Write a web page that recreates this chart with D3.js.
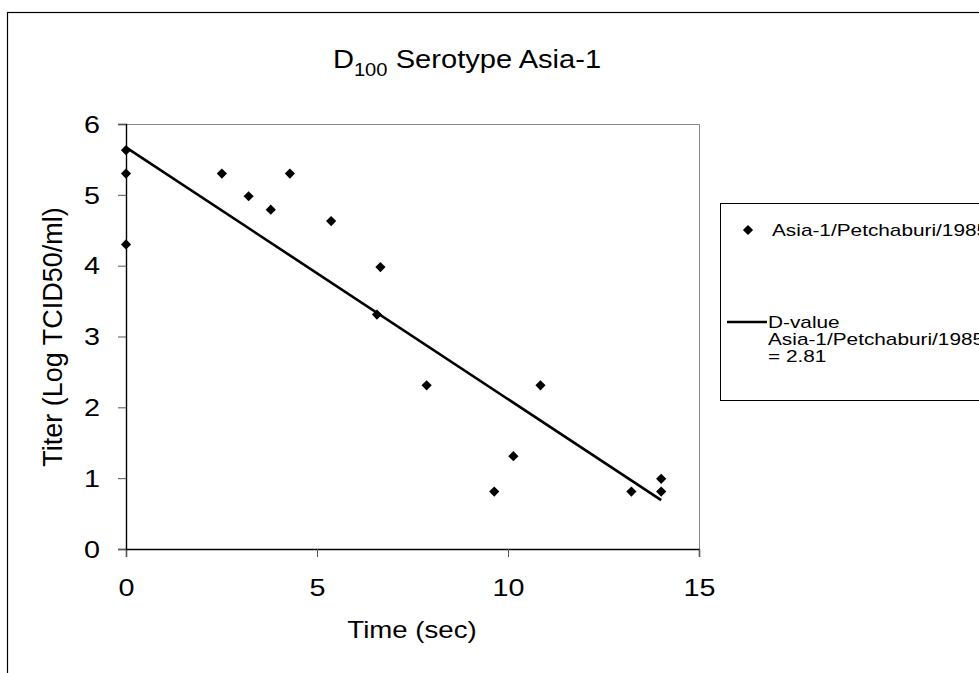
<!DOCTYPE html>
<html>
<head>
<meta charset="utf-8">
<script src="https://cdn.jsdelivr.net/npm/d3@7"></script>
<style>
  body { margin: 0; background: #fff; }
  svg { display: block; font-family: Arial, "Liberation Sans", sans-serif; }
</style>
</head>
<body>
<svg width="979" height="673"></svg>
<script>
// titer readings (Log TCID50/ml) against time (sec)
var times  = [0, 0, 0, 2.51, 3.21, 3.79, 4.29, 5.37, 6.66, 6.57, 7.87, 9.64, 10.14, 10.85, 13.23, 14.01, 14.01];
var titers = [5.63, 5.30, 4.30, 5.30, 4.98, 4.79, 5.30, 4.63, 3.98, 3.31, 2.31, 0.81, 1.31, 2.31, 0.81, 0.99, 0.81];

// regression line end points (D-value = 2.81)
var fitTimes  = [0, 14.01];
var fitTiters = [5.67, 0.69];

var xTicks = [0, 5, 10, 15];
var yTicks = [0, 1, 2, 3, 4, 5, 6];
var legendLabels = ["Asia-1/Petchaburi/1985", "D-value", "Asia-1/Petchaburi/1985", "= 2.81"];

const svg = d3.select("svg");
const plot = {left: 126, right: 699, top: 124, bottom: 549};
const sx = 1.25; // text in the picture is drawn a little wide

const x = d3.scaleLinear().domain([0, 15]).range([plot.left, plot.right]);
const y = d3.scaleLinear().domain([0, 6]).range([plot.bottom, plot.top]);

// chart frame
svg.append("rect")
    .attr("x", 7.5).attr("y", 12.5)
    .attr("width", 1100).attr("height", 800)
    .attr("fill", "#fff").attr("stroke", "#000").attr("stroke-width", 1.2);

// plot area border (top and right are grey)
svg.append("path")
    .attr("d", `M${plot.left},${plot.top + 0.5}H${plot.right + 0.5}V${plot.bottom}`)
    .attr("fill", "none").attr("stroke", "#888").attr("stroke-width", 1);

const xAxis = svg.append("g")
    .attr("transform", `translate(0,${plot.bottom})`)
    .call(d3.axisBottom(x).tickValues(xTicks).tickSize(8).tickPadding(23));
const yAxis = svg.append("g")
    .attr("transform", `translate(${plot.left},0)`)
    .call(d3.axisLeft(y).tickValues(yTicks).tickFormat(d3.format("d")).tickSize(8).tickPadding(18));

[xAxis, yAxis].forEach(g => {
    g.select(".domain").attr("stroke", "#000").attr("stroke-width", 1.4);
    g.selectAll(".tick line").attr("stroke", "#555");
    g.selectAll(".tick text")
        .attr("fill", "#000")
        .attr("transform", `scale(${sx},1)`)
        .style("font-size", "23px")
        .style("font-family", "Arial, 'Liberation Sans', sans-serif");
});
yAxis.selectAll(".tick text").attr("x", -26 / sx).attr("dy", "0.36em");

// regression line
svg.append("path")
    .datum(d3.zip(fitTimes, fitTiters))
    .attr("d", d3.line().x(d => x(d[0])).y(d => y(d[1])))
    .attr("fill", "none").attr("stroke", "#000").attr("stroke-width", 2.6);

// points
const diamond = d3.symbol().type(d3.symbolSquare).size(52);
svg.append("g").selectAll("path")
    .data(d3.zip(times, titers))
    .join("path")
    .attr("d", diamond)
    .attr("transform", d => `translate(${x(d[0])},${y(d[1])}) rotate(45)`)
    .attr("fill", "#000");

// title
const title = svg.append("text")
    .attr("transform", "translate(467,68) scale(1.12,1)")
    .attr("text-anchor", "middle")
    .style("font-size", "26px");
title.append("tspan").text("D");
title.append("tspan").attr("dy", 8).style("font-size", "18px").text("100");
title.append("tspan").attr("dy", -8).text(" Serotype Asia-1");

// axis titles
svg.append("text")
    .attr("transform", "translate(412,638) scale(1.2,1)")
    .attr("text-anchor", "middle")
    .style("font-size", "23px")
    .text("Time (sec)");
svg.append("text")
    .attr("transform", "translate(62,337) rotate(-90)")
    .attr("text-anchor", "middle")
    .style("font-size", "27px")
    .text("Titer (Log TCID50/ml)");

// legend (the reference cuts its right side off at the page edge)
const legend = svg.append("g");
legend.append("rect")
    .attr("x", 720.5).attr("y", 203.5)
    .attr("width", 400).attr("height", 197)
    .attr("fill", "#fff").attr("stroke", "#000").attr("stroke-width", 1);
legend.append("path")
    .attr("d", diamond)
    .attr("transform", "translate(748,230) rotate(45)")
    .attr("fill", "#000");
legend.append("text")
    .attr("transform", "translate(772,236) scale(1.3,1)")
    .style("font-size", "16px")
    .text(legendLabels[0]);
legend.append("line")
    .attr("x1", 727).attr("x2", 767)
    .attr("y1", 322).attr("y2", 322)
    .attr("stroke", "#000").attr("stroke-width", 2.6);
const lt = legend.append("text")
    .attr("transform", "translate(768,328) scale(1.3,1)")
    .style("font-size", "16px");
legendLabels.slice(1).forEach((s, i) => {
    lt.append("tspan").attr("x", 0).attr("dy", i ? 17 : 0).text(s);
});
</script>
</body>
</html>
